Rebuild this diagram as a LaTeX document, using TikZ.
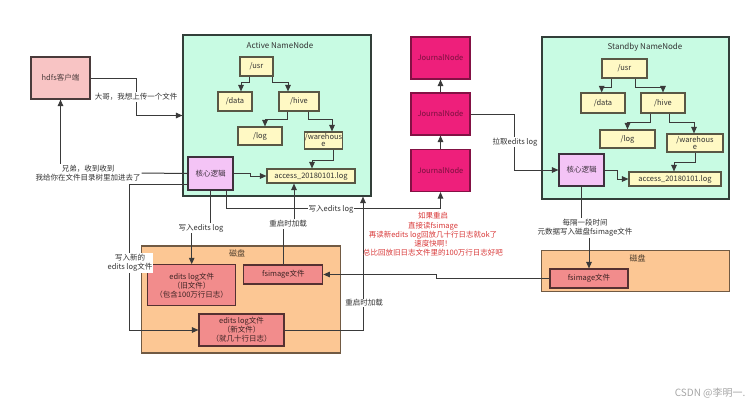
\documentclass[tikz,border=0pt]{standalone}
\usepackage{fontspec}
\setmainfont{Noto Sans CJK SC}
\usetikzlibrary{positioning,calc,arrows.meta}

\definecolor{hdfsfill}{HTML}{F8C4C4}
\definecolor{nnfill}{HTML}{C8FBE3}
\definecolor{dirfill}{HTML}{FFF9C4}
\definecolor{corefill}{HTML}{F4C4F6}
\definecolor{jnfill}{HTML}{EE1F7B}
\definecolor{diskfill}{HTML}{FCC794}
\definecolor{filefill}{HTML}{F28C8C}
\definecolor{redtxt}{HTML}{D83838}
\definecolor{linec}{HTML}{3A3A3A}
\definecolor{txt}{HTML}{333333}

\begin{document}
\begin{tikzpicture}[x=1pt,y=-1pt]
  \tikzset{box/.style={draw, line width=1.1pt, inner sep=0pt, align=center,
      font=\fontsize{7.5}{9}\selectfont},
    client/.style={box, fill=hdfsfill, draw=hdfsfill!30!black, text=hdfsfill!30!black},
    namenode/.style={box, fill=nnfill, draw=nnfill!25!black},
    dir/.style={box, fill=dirfill, draw=dirfill!35!black, text=txt},
    core/.style={box, fill=corefill, draw=corefill!25!black, text=corefill!25!black},
    journal/.style={box, fill=jnfill, draw=jnfill!55!black, text=jnfill!50!black,
      minimum width=59pt, minimum height=42pt},
    disk/.style={box, fill=diskfill, draw=diskfill!45!black},
    file/.style={box, fill=filefill, draw=filefill!35!black, text=filefill!25!black},
    title/.style={font=\fontsize{8}{9}\selectfont, text=txt},
    lbl/.style={fill=white, inner sep=1pt, align=center, text=txt,
      font=\fontsize{7.5}{9}\selectfont},
    link/.style={draw=linec, line width=1pt},
    arr/.style={link, -{Triangle[length=6.5pt,width=5.5pt]}}
  }
  \useasboundingbox (0,0) rectangle (755,408);

  % client
  \node[client, minimum width=59pt, minimum height=42pt] (hdfs) at (60.5,78) {hdfs客户端};

  % active namenode
  \node[namenode, minimum width=188pt, minimum height=161pt] (nnA) at (277,115.5) {};
  \node[title] at (280,45) {Active NameNode};
  \node[dir, minimum width=33pt, minimum height=19pt] (usrA) at (256.5,66.5) {/usr};
  \node[dir, minimum width=34pt, minimum height=19pt] (dataA) at (235,101.5) {/data};
  \node[dir, minimum width=40pt, minimum height=19pt] (hiveA) at (299,101.5) {/hive};
  \node[dir, minimum width=44pt, minimum height=18pt] (logA) at (260,136) {/log};
  \node[dir, minimum width=37pt, minimum height=17pt] (wareA) at (323.5,140.5) {/warehous\\[-2pt]e};
  \node[dir, minimum width=88pt, minimum height=14pt] (accA) at (311,176) {access\_20180101.log};
  \node[core, minimum width=45pt, minimum height=33pt] (coreA) at (210.5,173.5) {核心逻辑};

  % standby namenode
  \node[namenode, minimum width=187pt, minimum height=162pt] (nnB) at (635.5,118) {};
  \node[title] at (645,47) {Standby NameNode};
  \node[dir, minimum width=45pt, minimum height=19pt] (usrB) at (624.5,68.5) {/usr};
  \node[dir, minimum width=44pt, minimum height=20pt] (dataB) at (603,103) {/data};
  \node[dir, minimum width=44pt, minimum height=20pt] (hiveB) at (663,103) {/hive};
  \node[dir, minimum width=55pt, minimum height=18pt] (logB) at (627.5,139) {/log};
  \node[dir, minimum width=56pt, minimum height=18pt] (wareB) at (695,143) {/warehous\\[-2pt]e};
  \node[dir, minimum width=92pt, minimum height=14pt] (accB) at (675,179) {access\_20180101.log};
  \node[core, minimum width=45pt, minimum height=32pt] (coreB) at (581.5,170) {核心逻辑};

  % journal nodes
  \node[journal] (jn1) at (440.5,58) {JournalNode};
  \node[journal] (jn2) at (440.5,114) {JournalNode};
  \node[journal] (jn3) at (440.5,170.5) {JournalNode};

  % disks
  \node[disk, minimum width=199pt, minimum height=107pt] (diskA) at (241.2,299.5) {};
  \node[title, text=diskfill!30!black] at (237,253) {磁盘};
  \node[file, minimum width=88pt, minimum height=41pt] (oldlog) at (191.7,285.3)
    {edits log文件\\（旧文件）\\（包含100万行日志）};
  \node[file, minimum width=79pt, minimum height=19pt] (fsA) at (283.3,274.5) {fsimage文件};
  \node[file, minimum width=85pt, minimum height=32pt] (newlog) at (241.5,330)
    {edits log文件\\（新文件）\\（就几十行日志）};
  \node[disk, minimum width=188pt, minimum height=41pt] (diskB) at (635.8,271.3) {};
  \node[title, text=diskfill!30!black] at (637.7,258) {磁盘};
  \node[file, minimum width=78pt, minimum height=19pt] (fsB) at (589,278.5) {fsimage文件};

  % directory trees
  \foreach \a/\b/\s/\t/\m in {usrA/dataA/-7.5/6/6, usrA/hiveA/15.5/-11/6,
      hiveA/logA/-12/5/8, hiveA/wareA/9/8.5/8, wareA/accA/9.5/1/11,
      usrB/dataB/-13.5/-1.3/9, usrB/hiveB/10.5/0/9, hiveB/logB/-13/0/9,
      hiveB/wareB/6/-1/9, wareB/accB/0/-1/10}
    \draw[arr] ([xshift=\s pt]\a.south) -- ++(0,\m) -| ([xshift=\t pt]\b.north);
  \draw[arr] (coreA.east) -- ++(17,0) |- (accA.west);
  \draw[arr] (coreB.east) -- ++(13,0) |- (accB.west);

  % labels that connectors end on
  \node[lbl] (reply) at (88,173) {兄弟，收到收到\\我给你在文件目录树里加进去了};
  \node[lbl] (wlog) at (201,228) {写入edits log};
  \node[lbl] (loadA) at (288,224) {重启时加载};
  \node[lbl] (every) at (585,228) {每隔一段时间\\元数据写入磁盘fsimage文件};

  % connectors
  \draw[arr] (hdfs.east) -- ++(45.5,0) |- (nnA.west);
  \draw[link] (coreA.west) -- (reply.east);
  \draw[arr] (reply.north -| hdfs.south) -- (hdfs.south);
  \draw[arr] (coreA.west |- 0,184) -- ++(-58,0) |- (newlog.west);
  \draw[link] (coreA.south) -- (coreA.south |- wlog.north);
  \draw[arr] (wlog.south -| oldlog.north) -- (oldlog.north);
  \draw[arr] ([xshift=16pt]coreA.south) -- ++(0,18) -| (jn3.south);
  \draw[arr] (newlog.east) -| (nnA.south -| 363,0);
  \draw[link] (fsA.north) -- (fsA.north |- loadA.south);
  \draw[arr] ([xshift=-17pt]accA.south |- loadA.north) -- ([xshift=-17pt]accA.south);
  \draw[arr] (fsB.west) -- ++(-113,0) |- (fsA.east);
  \draw[arr] (jn3.north) -- (jn2.south);
  \draw[arr] (jn2.north) -- (jn1.south);
  \draw[arr] (jn2.east) -- ++(44,0) |- (coreB.west);
  \draw[link] (coreB.south) -- (coreB.south |- every.north);
  \draw[arr] (every.south -| fsB.north) -- (fsB.north);

  % labels on top of connectors
  \node[lbl] at (136,97) {大哥，我想上传一个文件};
  \node[lbl] at (130,263) {写入新的\\edits log文件};
  \node[lbl] at (331,209) {写入edits log};
  \node[lbl] at (364,303) {重启时加载};
  \node[lbl] at (515,142) {拉取edits log};

  \node[align=center, text=redtxt, font=\fontsize{7.5}{9.2}\selectfont] (note) at (433,234.5)
    {如果重启\\直接读fsimage\\再读新edits log回放几十行日志就ok了\\速度快啊！\\总比回放旧日志文件里的100万行日志好吧};

  \node[anchor=east, text=black!35, font=\fontsize{10}{12}\selectfont] at (749,393) {CSDN @李明一.};
\end{tikzpicture}
\end{document}
